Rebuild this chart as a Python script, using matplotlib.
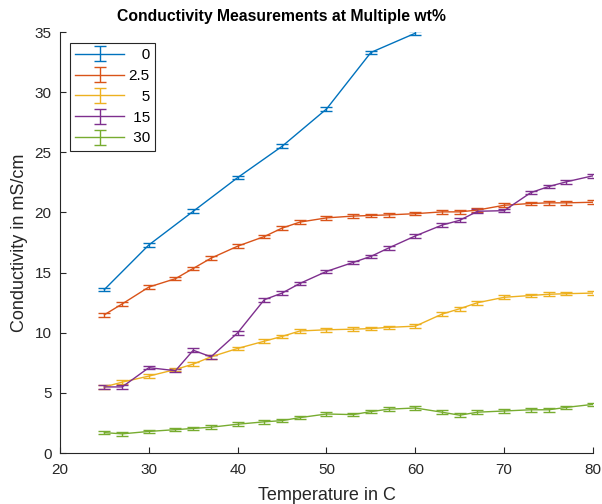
import matplotlib.pyplot as plt
import numpy as np

plt.rcParams['font.family'] = ['Liberation Sans', 'DejaVu Sans']

# temperatures (C)
temp_0 = [25, 30, 35, 40, 45, 50, 55, 60]
temp_all = [25, 27, 30, 33, 35, 37, 40, 43, 45, 47, 50, 53, 55, 57, 60,
            63, 65, 67, 70, 73, 75, 77, 80]

# conductivity (mS/cm) for each wt%
cond_0 = [13.6, 17.3, 20.1, 22.9, 25.5, 28.6, 33.3, 34.9]
cond_2_5 = [11.5, 12.4, 13.8, 14.5, 15.35, 16.2, 17.2, 18.0, 18.7, 19.2, 19.55,
            19.7, 19.75, 19.8, 19.9, 20.05, 20.05, 20.2, 20.6, 20.75, 20.8, 20.8, 20.85]
cond_5 = [5.5, 5.9, 6.4, 6.95, 7.4, 8.0, 8.7, 9.3, 9.7, 10.15, 10.25,
          10.3, 10.35, 10.45, 10.55, 11.55, 12.0, 12.5, 12.95, 13.1, 13.2, 13.25, 13.3]
cond_15 = [5.5, 5.5, 7.1, 6.85, 8.55, 8.0, 10.0, 12.75, 13.3, 14.1, 15.1,
           15.85, 16.35, 17.05, 18.05, 18.95, 19.35, 20.1, 20.15, 21.65, 22.15, 22.55, 23.05]
cond_30 = [1.7, 1.6, 1.8, 1.95, 2.05, 2.15, 2.4, 2.6, 2.7, 2.95, 3.25,
           3.2, 3.45, 3.65, 3.75, 3.4, 3.15, 3.4, 3.5, 3.6, 3.6, 3.8, 4.05]
err = 0.15

# legend labels, padded with figure/punctuation spaces so they line up on the right
labels = ['\u2007\u20080', '2.5', '\u2007\u20085', '\u200815', '\u200830']
colors = ['#0072BD', '#D95319', '#EDB120', '#7E2F8E', '#77AC30']

fig = plt.figure(figsize=(6.02, 5.04), dpi=100)
ax = fig.add_axes([0.0997, 0.101, 0.8853, 0.8355])

series = [(temp_0, cond_0), (temp_all, cond_2_5), (temp_all, cond_5),
          (temp_all, cond_15), (temp_all, cond_30)]
for (x, y), lab, col in zip(series, labels, colors):
    ax.errorbar(x, y, yerr=np.full(len(y), err), color=col, label=lab,
                linewidth=1, elinewidth=1, capsize=4, capthick=1)

ax.set_xlim(20, 80)
ax.set_ylim(0, 35)
ax.set_xticks(np.arange(20, 81, 10))
ax.set_yticks(np.arange(0, 36, 5))

for side in ['top', 'right']:
    ax.spines[side].set_visible(False)
for side in ['left', 'bottom']:
    ax.spines[side].set_color('#262626')
    ax.spines[side].set_linewidth(0.8)
ax.tick_params(direction='in', length=4, width=0.8, colors='#262626',
               labelsize=11, labelcolor='#262626')
ax.tick_params(axis='x', pad=7)
ax.tick_params(axis='y', pad=6)

ax.set_xlabel('Temperature in C', fontsize=13, color='#262626', labelpad=7)
ax.set_ylabel('Conductivity in mS/cm', fontsize=13, color='#262626', labelpad=5)
ax.set_title('Conductivity Measurements at Multiple wt%', fontsize=11.3,
             fontweight='bold', x=0.4156, pad=8)

leg = ax.legend(loc='upper left', bbox_to_anchor=(0.0188, 0.974),
                borderaxespad=0, fontsize=11,
                fancybox=False, edgecolor='#262626', framealpha=1,
                handlelength=3.2, borderpad=0.33, labelspacing=0.45,
                handletextpad=0.3)
leg.get_frame().set_linewidth(0.8)

fig.savefig('out.png', dpi=100)
